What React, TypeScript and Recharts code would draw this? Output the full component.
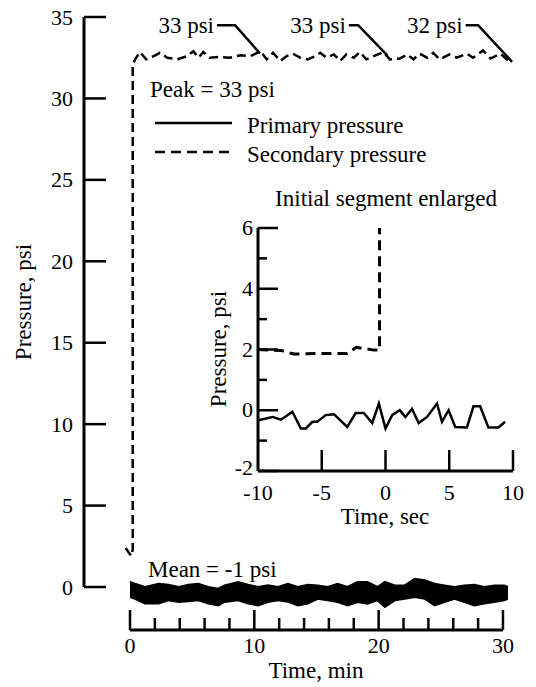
import {
  ComposedChart,
  LineChart,
  Line,
  Area,
  XAxis,
  YAxis,
  ReferenceLine,
  ReferenceDot,
} from 'recharts';

const FONT = "'Liberation Serif', 'DejaVu Serif', serif";

// Main chart: time in minutes
const mainXTicks = [0, 2, 4, 6, 8, 10, 12, 14, 16, 18, 20, 22, 24, 26, 28, 30];
const mainYTicks = [0, 5, 10, 15, 20, 25, 30, 35];

// Primary pressure band (envelope of the noisy trace)
const bandTime = [0, 0.4, 1.2, 2.3, 3.1, 3.9, 4.7, 5.5, 6.3, 7.1, 7.6, 8.7, 9.5, 10.3, 11.1, 11.9, 12.7, 13.5, 14.3, 15.1, 15.9, 16.7, 17.5, 18.3, 19.1, 19.9, 20.5, 21.3, 22.1, 22.9, 23.7, 24.5, 25.3, 26.1, 26.9, 27.7, 28.5, 29.3, 30.1, 30.4];
const bandHigh = [0.31, 0.2, 0.0, 0.2, 0.14, 0.0, 0.14, 0.2, 0.0, -0.1, 0.1, 0.31, 0.14, 0.0, 0.1, 0.0, 0.2, 0.0, 0.14, 0.1, 0.0, 0.2, 0.0, 0.31, 0.31, 0.0, 0.31, 0.1, 0.1, 0.51, 0.41, 0.2, 0.1, 0.0, 0.1, 0.14, 0.0, 0.1, 0.1, 0.0];
const bandLow = [-0.61, -0.72, -1.02, -1.02, -0.82, -0.92, -0.88, -0.82, -1.02, -1.13, -0.92, -0.82, -1.02, -1.13, -0.92, -0.82, -0.9, -1.13, -1.02, -0.72, -0.82, -0.92, -1.13, -0.92, -1.02, -0.82, -1.23, -0.82, -0.72, -0.61, -0.72, -1.13, -0.92, -0.72, -0.92, -1.13, -1.02, -0.92, -0.82, -0.72];

// Secondary pressure (dashed)
const secTime = [-0.35, 0.1, 0.22, 0.22, 0.45, 0.8, 1.3, 1.9, 2.4, 3.0, 3.8, 4.6, 5.1, 5.5, 5.9, 6.4, 7.2, 8.0, 8.9, 9.7, 10.5, 11.0, 11.5, 12.1, 12.6, 13.1, 13.8, 14.3, 14.9, 15.3, 15.8, 16.4, 16.9, 17.4, 18.0, 18.5, 19.0, 19.6, 20.4, 20.9, 21.7, 22.3, 22.8, 23.3, 23.9, 24.4, 24.9, 25.7, 26.3, 27.1, 27.6, 28.4, 29.0, 29.8, 30.6];
const secValue = [2.4, 1.9, 2.3, 32.1, 32.45, 32.85, 32.4, 32.6, 32.8, 32.5, 32.4, 32.6, 32.9, 32.5, 32.85, 32.5, 32.55, 32.5, 32.65, 32.6, 32.9, 32.4, 32.8, 32.3, 32.6, 32.75, 32.45, 32.4, 32.6, 32.8, 32.5, 32.7, 32.3, 32.7, 32.5, 32.85, 32.4, 32.6, 32.85, 32.4, 32.45, 32.7, 32.4, 32.75, 32.5, 32.8, 32.4, 32.7, 32.5, 32.75, 32.5, 32.95, 32.45, 32.75, 32.2];

// Peak callouts
const calloutLabels = ['33 psi', '33 psi', '32 psi'];
const calloutStart = [7.0, 17.6, 27.0];
const calloutElbow = [8.45, 18.35, 28.0];
const calloutTip = [10.46, 20.68, 30.73];
const calloutTipValue = [32.76, 32.66, 32.25];
const calloutLevel = 34.5;

// Inset: time in seconds
const insetXTicks = [-10, -5, 0, 5, 10];
const insetYTicks = [-2, -1, 0, 1, 2, 3, 4, 5, 6];
const insetPrimaryTime = [-10, -8.85, -8.2, -7.3, -6.64, -6.25, -5.73, -5.35, -4.69, -4.04, -3.0, -2.34, -1.7, -1.04, -0.52, 0.0, 0.52, 1.12, 1.56, 2.08, 2.6, 3.26, 4.04, 4.43, 4.95, 5.47, 6.38, 6.9, 7.42, 8.07, 8.86, 9.38];
const insetPrimaryValue = [-0.33, -0.22, -0.31, -0.05, -0.6, -0.6, -0.38, -0.38, -0.16, -0.13, -0.55, -0.09, -0.09, -0.42, 0.22, -0.6, -0.16, 0.0, -0.22, 0.05, -0.42, -0.22, 0.22, -0.38, 0.0, -0.55, -0.57, 0.13, 0.13, -0.57, -0.57, -0.38];
const insetSecTime = [-10, -8.2, -7.2, -5, -3, -2.3, -0.9, -0.47, -0.47];
const insetSecValue = [2.0, 1.97, 1.85, 1.87, 1.87, 2.07, 1.98, 1.98, 6];

const bandData = bandTime.map((t, i) => ({ t, range: [bandLow[i], bandHigh[i]] }));
const secData = secTime.map((t, i) => ({ t, v: secValue[i] }));
const calloutData = calloutLabels.map((_, i) => [
  { t: calloutStart[i], v: calloutLevel },
  { t: calloutElbow[i], v: calloutLevel },
  { t: calloutTip[i], v: calloutTipValue[i] },
]);
const insetPrimary = insetPrimaryTime.map((t, i) => ({ t, v: insetPrimaryValue[i] }));
const insetSec = insetSecTime.map((t, i) => ({ t, v: insetSecValue[i] }));

const X_MIN = -3.7;
const Y_MIN = -2.64;

const tickText = { fontSize: 22, fill: '#000', style: { fontFamily: FONT } };
const txt = { fontSize: 23, fill: '#000', style: { fontFamily: FONT } };

function MainXTick(props: any) {
  const { x, y, payload } = props;
  const major = payload.value % 10 === 0;
  return (
    <g>
      <line x1={x} x2={x} y1={y} y2={y - (major ? 20 : 12)} stroke="#000" strokeWidth={2.5} />
      {major && (
        <text x={x} y={y + 23} textAnchor="middle" {...tickText}>
          {payload.value}
        </text>
      )}
    </g>
  );
}

function MainYTick(props: any) {
  const { x, y, payload } = props;
  return (
    <g>
      <line x1={x} x2={x + 22} y1={y} y2={y} stroke="#000" strokeWidth={2.5} />
      <text x={x - 11} y={y + 7.5} textAnchor="end" {...tickText}>
        {payload.value}
      </text>
    </g>
  );
}

function InsetXTick(props: any) {
  const { x, y, payload } = props;
  return (
    <g>
      {payload.value !== -10 && (
        <line x1={x} x2={x} y1={y} y2={y - 21} stroke="#000" strokeWidth={2.5} />
      )}
      <text x={x} y={y + 29} textAnchor="middle" {...tickText}>
        {payload.value}
      </text>
    </g>
  );
}

function InsetYTick(props: any) {
  const { x, y, payload } = props;
  const major = payload.value % 2 === 0;
  return (
    <g>
      <line x1={x} x2={x + (major ? 20 : 9)} y1={y} y2={y} stroke="#000" strokeWidth={2.5} />
      {major && (
        <text x={x - 5} y={y + (payload.value === -2 ? 4 : 7)} textAnchor="end" {...tickText}>
          {payload.value}
        </text>
      )}
    </g>
  );
}

export default function App() {
  return (
    <div style={{ position: 'absolute', left: 0, top: 0, width: 536, height: 687, background: '#fff', fontFamily: FONT }}>
      <ComposedChart width={536} height={687} margin={{ top: 17, right: 16, left: 24, bottom: 27 }}>
        <XAxis
          type="number"
          dataKey="t"
          domain={[X_MIN, 31.37]}
          ticks={mainXTicks}
          interval={0}
          allowDataOverflow
          axisLine={false}
          tickLine={false}
          tickSize={0}
          tickMargin={0}
          height={30}
          tick={<MainXTick />}
        />
        <YAxis
          type="number"
          domain={[Y_MIN, 35]}
          ticks={mainYTicks}
          interval={0}
          allowDataOverflow
          axisLine={false}
          tickLine={false}
          tickSize={0}
          tickMargin={0}
          width={60}
          tick={<MainYTick />}
        />
        <ReferenceLine
          segment={[{ x: X_MIN, y: 0 }, { x: X_MIN, y: 35 }]}
          stroke="#000"
          strokeWidth={3}
          ifOverflow="visible"
        />
        <ReferenceLine
          segment={[{ x: 0, y: Y_MIN }, { x: 30, y: Y_MIN }]}
          stroke="#000"
          strokeWidth={3}
          ifOverflow="visible"
        />
        <Area
          data={bandData}
          dataKey="range"
          type="linear"
          stroke="#000"
          strokeWidth={2}
          fill="#000"
          fillOpacity={1}
          dot={false}
          activeDot={false}
          isAnimationActive={false}
        />
        <Line
          data={secData}
          dataKey="v"
          type="linear"
          stroke="#000"
          strokeWidth={2.5}
          strokeDasharray="9 5"
          dot={false}
          activeDot={false}
          isAnimationActive={false}
        />
        {calloutData.map((d, i) => (
          <Line
            key={`c${i}`}
            data={d}
            dataKey="v"
            type="linear"
            stroke="#000"
            strokeWidth={2.5}
            dot={false}
            activeDot={false}
            isAnimationActive={false}
          />
        ))}
        {calloutLabels.map((label, i) => (
          <ReferenceDot
            key={`l${i}`}
            x={calloutStart[i]}
            y={calloutLevel}
            r={1}
            fill="none"
            stroke="none"
            ifOverflow="visible"
            label={{ value: label, position: 'left', offset: 2, fontSize: 23, fill: '#000', fontFamily: FONT }}
          />
        ))}
      </ComposedChart>

      <div style={{ position: 'absolute', left: 150, top: 190 }}>
        <LineChart width={380} height={330} margin={{ top: 38, right: 17, left: 48, bottom: 19 }}>
          <XAxis
            type="number"
            dataKey="t"
            domain={[-10, 10]}
            ticks={insetXTicks}
            interval={0}
            allowDataOverflow
            axisLine={{ stroke: '#000', strokeWidth: 3 }}
            tickLine={false}
            tickSize={0}
            tickMargin={0}
            height={30}
            tick={<InsetXTick />}
          />
          <YAxis
            type="number"
            domain={[-2, 6]}
            ticks={insetYTicks}
            interval={0}
            allowDataOverflow
            axisLine={{ stroke: '#000', strokeWidth: 3 }}
            tickLine={false}
            tickSize={0}
            tickMargin={0}
            width={60}
            tick={<InsetYTick />}
          />
          <Line
            data={insetSec}
            dataKey="v"
            type="linear"
            stroke="#000"
            strokeWidth={3}
            strokeDasharray="10 6"
            dot={false}
            activeDot={false}
            isAnimationActive={false}
          />
          <Line
            data={insetPrimary}
            dataKey="v"
            type="linear"
            stroke="#000"
            strokeWidth={2.5}
            dot={false}
            activeDot={false}
            isAnimationActive={false}
          />
        </LineChart>
      </div>

      <svg width={536} height={687} style={{ position: 'absolute', left: 0, top: 0, pointerEvents: 'none' }}>
        <text x={31} y={302} textAnchor="middle" transform="rotate(-90 31 302)" {...txt}>
          Pressure, psi
        </text>
        <text x={316} y={678} textAnchor="middle" {...txt}>Time, min</text>
        <text x={150} y={97} {...txt}>Peak = 33 psi</text>
        <line x1={155} x2={232} y1={123} y2={123} stroke="#000" strokeWidth={2.5} />
        <text x={247} y={133} {...txt}>Primary pressure</text>
        <line x1={155} x2={232} y1={152} y2={152} stroke="#000" strokeWidth={2.5} strokeDasharray="10 6" />
        <text x={247} y={162} {...txt}>Secondary pressure</text>
        <text x={386} y={206} textAnchor="middle" {...txt}>Initial segment enlarged</text>
        <text x={148} y={577} {...txt}>Mean = -1 psi</text>
        <text x={226} y={349} textAnchor="middle" transform="rotate(-90 226 349)" {...txt}>
          Pressure, psi
        </text>
        <text x={385} y={524} textAnchor="middle" {...txt}>Time, sec</text>
      </svg>
    </div>
  );
}
